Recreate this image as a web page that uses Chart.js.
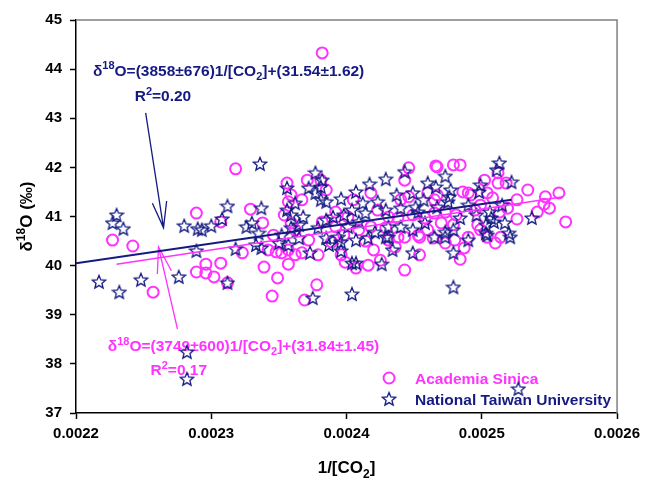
<!DOCTYPE html>
<html>
<head>
<meta charset="utf-8">
<script src="https://cdn.jsdelivr.net/npm/chart.js@4/dist/chart.umd.min.js"></script>
<style>
    html, body { margin: 0; padding: 0; background: #fff; }
</style>
</head>
<body>
<canvas id="chart" width="646" height="480"></canvas>
<script>
//Academia Sinica (circles)
const asX = [0.002227,0.002242,0.002257,0.002289,0.002318,0.002289,0.002296,0.002296,0.002302,0.002307,
    0.002307,0.002312,0.002323,0.002329,0.002338,0.002346,0.002339,0.002349,0.002345,0.002369,
    0.002378,0.002379,0.002342,0.002348,0.002352,0.002357,0.002362,0.002367,0.002357,0.002356,
    0.002359,0.002357,0.002367,0.002371,0.002381,0.002359,0.002362,0.002382,0.002446,0.002466,
    0.002443,0.002418,0.002385,0.002440,0.002446,0.002460,0.002465,0.002431,0.002438,0.002401,
    0.002392,0.002392,0.002409,0.002418,0.002429,0.002458,0.002465,0.002460,0.002438,0.002453,
    0.002382,0.002479,0.002484,0.002512,0.002467,0.002502,0.002512,0.002518,0.002486,0.002490,
    0.002492,0.002504,0.002508,0.002467,0.002547,0.002557,0.002546,0.002550,0.002526,0.002519,
    0.002513,0.002562,0.002497,0.002499,0.002481,0.002473,0.002495,0.002499,0.002490,0.002470,
    0.002443,0.002454,0.002416,0.002425,0.002399,0.002407,0.002396,
    0.002431,0.002436,0.002443,0.002454,0.002464,0.002389,0.002414,0.002473,0.002480,0.002487,
    0.002484,0.002510,0.002514,0.002504,
    0.002405,0.002423,0.002449,0.002398,0.002420,0.002479,0.002526,0.002534,0.002541,0.002354,0.002372];
const asY = [40.52,40.40,39.46,41.07,41.97,39.87,39.85,40.03,39.77,40.05,
    40.89,39.65,40.26,41.15,40.87,40.62,39.97,39.75,39.38,39.30,
    39.61,40.22,40.32,40.28,40.26,40.32,40.22,40.26,40.03,41.68,
    41.44,41.30,41.34,41.74,41.74,40.87,40.73,44.33,41.99,42.03,
    41.74,41.48,41.54,41.34,41.40,41.48,41.34,40.99,40.97,40.99,
    41.09,40.79,40.73,40.79,40.77,40.97,41.07,40.73,40.58,40.62,
    40.89,42.05,42.05,41.89,42.01,41.74,41.68,41.68,41.50,41.48,
    41.44,41.48,41.38,41.44,41.40,41.48,41.25,41.17,40.95,41.17,
    41.09,40.89,40.83,40.73,41.03,41.09,41.13,41.23,40.58,40.87,
    39.91,40.22,40.01,40.11,40.07,39.95,40.22,
    40.52,40.38,40.58,40.58,40.56,40.48,40.50,40.46,40.52,40.36,
    40.13,40.46,40.58,40.58,
    41.34,41.13,41.03,40.62,40.32,40.83,41.34,41.54,41.09,41.03,40.52];

//National Taiwan University (stars)
const ntuX = [0.002230,0.002227,0.002235,0.002217,0.002232,0.002248,0.002276,0.002289,0.002280,0.002290,
    0.002300,0.002308,0.002312,0.002312,0.002318,0.002326,0.002330,0.002336,0.002337,0.002333,
    0.002337,0.002350,0.002356,0.002356,0.002359,0.002359,0.002362,0.002368,0.002372,0.002377,
    0.002377,0.002381,0.002365,0.002357,0.002373,0.002375,0.002282,0.002282,0.002335,0.002293,
    0.002382,0.002381,0.002385,0.002396,0.002407,0.002417,0.002429,0.002443,0.002423,0.002412,
    0.002449,0.002460,0.002466,0.002440,0.002451,0.002453,0.002429,0.002404,0.002414,0.002390,
    0.002385,0.002379,0.002401,0.002421,0.002431,0.002440,0.002449,0.002458,0.002465,0.002431,
    0.002416,0.002394,0.002513,0.002511,0.002473,0.002522,0.002499,0.002498,0.002477,0.002476,
    0.002475,0.002537,0.002506,0.002507,0.002509,0.002503,0.002517,0.002520,0.002503,0.002484,
    0.002479,0.002473,0.002467,0.002404,0.002449,0.002426,0.002404,0.002407,0.002396,0.002396,
    0.002385,0.002407,0.002429,0.002479,0.002479,0.002504,0.002521,0.002473,0.002527,
    0.002398,0.002409,0.002437,0.002457,0.002490,0.002496,0.002387,0.002434,0.002490,0.002515,0.002352,0.002365];
const ntuY = [41.03,40.87,40.75,39.67,39.46,39.71,39.77,40.30,40.81,40.75,
    40.81,40.95,41.21,39.65,40.34,40.79,40.87,42.07,41.17,40.42,
    40.36,40.46,41.58,41.13,41.03,40.77,41.27,40.99,41.58,41.89,
    41.48,41.34,40.56,40.42,40.26,39.34,38.24,37.69,40.66,40.73,
    41.74,41.60,41.30,41.36,41.50,41.66,41.76,41.91,41.30,41.27,
    41.48,41.68,41.60,41.17,41.19,41.09,41.13,41.13,41.07,40.99,
    40.93,40.77,40.79,40.68,40.79,40.79,40.73,40.87,40.58,40.58,
    40.56,40.58,42.09,41.95,41.82,41.70,41.64,41.50,41.54,41.40,
    41.30,40.97,41.09,40.97,40.89,40.83,40.87,40.66,40.66,40.97,
    40.73,40.68,41.19,39.42,40.26,40.03,40.05,40.05,40.30,40.48,
    40.56,40.52,40.58,40.26,39.56,40.62,40.58,40.58,37.49,
    41.03,40.89,41.44,41.34,41.23,41.03,40.42,40.32,40.52,41.23,40.62,40.83];

//Regression lines (end points)
const ntuFitX = [0.002200, 0.002522];
const ntuFitY = [40.05, 41.34];
const asFitX = [0.002230, 0.002560];
const asFitY = [40.03, 41.40];

//Axis
const xTicks = [0.0022, 0.0023, 0.0024, 0.0025, 0.0026];
const yTicks = [37, 38, 39, 40, 41, 42, 43, 44, 45];

const NAVY = '#141a82';
const PINK = '#ff33ff';
const FONT = '"Liberation Sans", Arial, sans-serif';

//Annotations (data coords)
const notes = [
    { color: NAVY, x: 0.0022125, y: 43.86, parts: [['\u03b4', ''], ['18', 'sup'], ['O=(3858\u00b1676)1/[CO', ''], ['2', 'sub'], [']+(31.54\u00b11.62)', '']] },
    { color: NAVY, x: 0.0022434, y: 43.35, parts: [['R', ''], ['2', 'sup'], ['=0.20', '']] },
    { color: PINK, x: 0.0022235, y: 38.26, parts: [['\u03b4', ''], ['18', 'sup'], ['O=(3749\u00b1600)1/[CO', ''], ['2', 'sub'], [']+(31.84\u00b11.45)', '']] },
    { color: PINK, x: 0.0022551, y: 37.77, parts: [['R', ''], ['2', 'sup'], ['=0.17', '']] }
];
const arrows = [
    { color: NAVY, x1: 0.0022515, y1: 43.11, x2: 0.0022647, y2: 40.77 },
    { color: PINK, x1: 0.0022750, y1: 38.71, x2: 0.0022610, y2: 40.38 }
];

function toPoints(xs, ys) {
    return xs.map(function (x, i) { return { x: x, y: ys[i] }; });
}

function makeStar(color) {
    let c = document.createElement('canvas');
    c.width = 16; c.height = 16;
    let g = c.getContext('2d');
    g.beginPath();
    for (let i = 0; i < 10; i++) {
        let r = i % 2 === 0 ? 7 : 3.1;
        let a = -Math.PI / 2 + i * Math.PI / 5;
        let px = 8 + r * Math.cos(a), py = 8.5 + r * Math.sin(a);
        if (i === 0) g.moveTo(px, py); else g.lineTo(px, py);
    }
    g.closePath();
    g.strokeStyle = color;
    g.lineWidth = 1.3;
    g.stroke();
    return c;
}
const starImg = makeStar(NAVY);

function drawRich(ctx, parts, x, y, size) {
    let cx = x;
    parts.forEach(function (p) {
        let fs = p[1] ? Math.round(size * 0.68) : size;
        ctx.font = 'bold ' + fs + 'px ' + FONT;
        let dy = p[1] === 'sup' ? -size * 0.42 : (p[1] === 'sub' ? size * 0.28 : 0);
        ctx.fillText(p[0], cx, y + dy);
        cx += ctx.measureText(p[0]).width;
    });
    return cx - x;
}

function richWidth(ctx, parts, size) {
    let w = 0;
    parts.forEach(function (p) {
        let fs = p[1] ? Math.round(size * 0.68) : size;
        ctx.font = 'bold ' + fs + 'px ' + FONT;
        w += ctx.measureText(p[0]).width;
    });
    return w;
}

function drawArrow(ctx, x1, y1, x2, y2) {
    let ang = Math.atan2(y2 - y1, x2 - x1);
    let len = 27, spread = 0.27;
    ctx.beginPath();
    ctx.moveTo(x1, y1);
    ctx.lineTo(x2, y2);
    ctx.moveTo(x2 - len * Math.cos(ang - spread), y2 - len * Math.sin(ang - spread));
    ctx.lineTo(x2, y2);
    ctx.lineTo(x2 - len * Math.cos(ang + spread), y2 - len * Math.sin(ang + spread));
    ctx.stroke();
}

//Texts, arrows, frame, titles, legend
const extras = {
    id: 'extras',
    beforeDatasetsDraw: function (chart) {
        let ctx = chart.ctx, xs = chart.scales.x, ys = chart.scales.y, area = chart.chartArea;
        ctx.save();
        //frame top/right
        ctx.strokeStyle = '#808080';
        ctx.lineWidth = 1.5;
        ctx.beginPath();
        ctx.moveTo(area.left, area.top);
        ctx.lineTo(area.right, area.top);
        ctx.lineTo(area.right, area.bottom);
        ctx.stroke();
        //equations
        ctx.textBaseline = 'alphabetic';
        ctx.textAlign = 'left';
        notes.forEach(function (n) {
            ctx.fillStyle = n.color;
            drawRich(ctx, n.parts, xs.getPixelForValue(n.x), ys.getPixelForValue(n.y), 15.5);
        });
        //arrows
        ctx.lineWidth = 1.3;
        arrows.forEach(function (a) {
            ctx.strokeStyle = a.color;
            drawArrow(ctx, xs.getPixelForValue(a.x1), ys.getPixelForValue(a.y1),
                xs.getPixelForValue(a.x2), ys.getPixelForValue(a.y2));
        });
        //legend
        let lx = area.right - 228, ly = area.bottom - 35;
        ctx.strokeStyle = PINK;
        ctx.lineWidth = 2;
        ctx.beginPath();
        ctx.arc(lx, ly, 5.5, 0, Math.PI * 2);
        ctx.stroke();
        ctx.drawImage(starImg, lx - 8, ly + 21 - 8);
        ctx.font = 'bold 15.5px ' + FONT;
        ctx.fillStyle = PINK;
        ctx.fillText('Academia Sinica', lx + 26, ly + 6);
        ctx.fillStyle = NAVY;
        ctx.fillText('National Taiwan University', lx + 26, ly + 27);
        //axis titles
        ctx.fillStyle = '#000';
        let xt = [['1/[CO', ''], ['2', 'sub'], [']', '']];
        let w = richWidth(ctx, xt, 17);
        drawRich(ctx, xt, (area.left + area.right) / 2 - w / 2, 473, 17);
        let yt = [['\u03b4', ''], ['18', 'sup'], ['O (\u2030)', '']];
        w = richWidth(ctx, yt, 17);
        ctx.translate(32, (area.top + area.bottom) / 2);
        ctx.rotate(-Math.PI / 2);
        drawRich(ctx, yt, -w / 2, 0, 17);
        ctx.restore();
    }
};

let ctx = document.getElementById('chart').getContext('2d');
let myChart = new Chart(ctx, {
    type: 'scatter',
    data: {
        datasets: [{
            type: 'line',
            label: 'NTU fit',
            data: toPoints(ntuFitX, ntuFitY),
            borderColor: NAVY,
            borderWidth: 2,
            pointRadius: 0,
            fill: false,
            order: 0
        }, {
            type: 'line',
            label: 'AS fit',
            data: toPoints(asFitX, asFitY),
            borderColor: PINK,
            borderWidth: 1.5,
            pointRadius: 0,
            fill: false,
            order: 0
        }, {
            label: 'National Taiwan University',
            data: toPoints(ntuX, ntuY),
            pointStyle: starImg,
            pointRadius: 7,
            order: 1
        }, {
            label: 'Academia Sinica',
            data: toPoints(asX, asY),
            pointStyle: 'circle',
            pointRadius: 5.5,
            borderWidth: 2,
            borderColor: PINK,
            backgroundColor: 'rgba(0,0,0,0)',
            order: 2
        }]
    },
    options: {
        responsive: false,
        animation: false,
        devicePixelRatio: 1,
        layout: { padding: { top: 20, right: 25, left: 0, bottom: 0 } },
        plugins: { legend: { display: false }, tooltip: { enabled: false } },
        scales: {
            x: {
                type: 'linear',
                min: xTicks[0],
                max: xTicks[xTicks.length - 1],
                afterBuildTicks: function (s) { s.ticks = xTicks.map(function (v) { return { value: v }; }); },
                afterFit: function (s) { s.height = 67; },
                ticks: {
                    callback: function (v) { return v.toFixed(4); },
                    font: { family: FONT, size: 15, weight: 'bold' },
                    color: '#000',
                    padding: 6,
                    maxRotation: 0
                },
                grid: { drawOnChartArea: false, drawTicks: true, tickLength: 6, tickColor: '#000', tickWidth: 1.5 },
                border: { display: true, color: '#000', width: 1.5 }
            },
            y: {
                min: yTicks[0],
                max: yTicks[yTicks.length - 1],
                afterBuildTicks: function (s) { s.ticks = yTicks.map(function (v) { return { value: v }; }); },
                afterFit: function (s) { s.width = 76; },
                ticks: {
                    font: { family: FONT, size: 15, weight: 'bold' },
                    color: '#000',
                    padding: 8
                },
                grid: { drawOnChartArea: false, drawTicks: true, tickLength: 6, tickColor: '#000', tickWidth: 1.5 },
                border: { display: true, color: '#000', width: 1.5 }
            }
        }
    },
    plugins: [extras]
});
</script>
</body>
</html>
